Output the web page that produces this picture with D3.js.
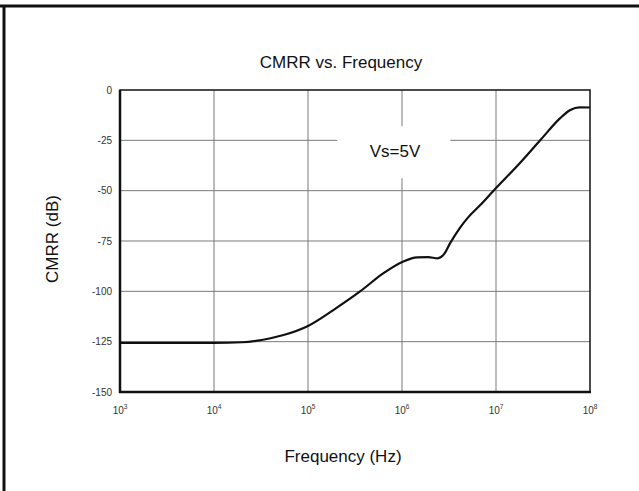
<!DOCTYPE html>
<html>
<head>
<meta charset="utf-8">
<script src="https://cdn.jsdelivr.net/npm/d3@7"></script>
<style>
  body { margin: 0; background: #fff; }
  svg { display: block; font-family: "Liberation Sans", Arial, sans-serif; }
</style>
</head>
<body>
<svg id="chart" width="639" height="491"></svg>
<script>
// values
const freqHz = [1000, 3000, 10000, 20000, 28000, 40000, 55000, 100000, 186000, 355000,
  630000, 1020000, 1445000, 1900000, 2400000, 2800000, 3240000, 4170000, 5000000, 6760000,
  10000000, 16600000, 30000000, 47900000, 61700000, 77600000, 100000000];
const cmrrDb = [-125.6, -125.6, -125.6, -125.3, -124.6, -123.3, -121.7, -117.2, -109.3, -100.2,
  -91.1, -85.3, -83.1, -83.0, -83.6, -81.5, -76.2, -68.2, -63.5, -57.3,
  -48.7, -38, -24.6, -14.1, -9.9, -8.6, -8.7];
const xTickExp = [3, 4, 5, 6, 7, 8];
const yTicks = [0, -25, -50, -75, -100, -125, -150];

const svg = d3.select("#chart");
const margin = { top: 90, right: 49, bottom: 99, left: 120 },
      width = 639 - margin.left - margin.right,
      height = 491 - margin.top - margin.bottom;

// outer frame (only top and left edges visible)
svg.append("line").attr("x1", 0).attr("x2", 639).attr("y1", 6).attr("y2", 6)
  .attr("stroke", "#111").attr("stroke-width", 3);
svg.append("line").attr("x1", 4).attr("x2", 4).attr("y1", 5).attr("y2", 491)
  .attr("stroke", "#111").attr("stroke-width", 3);

const x = d3.scaleLog().domain([1e3, 1e8]).range([0, width]);
const y = d3.scaleLinear().domain([-150, 0]).range([height, 0]);

const chart = svg.append("g")
  .attr("transform", "translate(" + margin.left + "," + margin.top + ")");

// grid
chart.append("g").selectAll("line").data(xTickExp.slice(1, -1)).enter().append("line")
  .attr("x1", d => x(Math.pow(10, d))).attr("x2", d => x(Math.pow(10, d)))
  .attr("y1", 0).attr("y2", height)
  .attr("stroke", "#7a7a7a").attr("stroke-width", 1);
chart.append("g").selectAll("line").data(yTicks.slice(1, -1)).enter().append("line")
  .attr("x1", 0).attr("x2", width)
  .attr("y1", d => y(d)).attr("y2", d => y(d))
  .attr("stroke", "#7a7a7a").attr("stroke-width", 1);

// label box covers grid
chart.append("rect")
  .attr("x", x(2e5) + 1).attr("y", y(-18)).attr("width", 113).attr("height", 52)
  .attr("fill", "#fff");
chart.append("text")
  .attr("x", x(1e6) - 7).attr("y", y(-33.5))
  .attr("text-anchor", "middle").attr("font-size", 17).attr("fill", "#111")
  .text("Vs=5V");

// plot frame
chart.append("rect").attr("x", 0).attr("y", 0).attr("width", width).attr("height", height)
  .attr("fill", "none").attr("stroke", "#111").attr("stroke-width", 1.5);
chart.append("line").attr("x1", 0).attr("x2", 0).attr("y1", 0).attr("y2", height + 1)
  .attr("stroke", "#111").attr("stroke-width", 2.5);
chart.append("line").attr("x1", -1).attr("x2", width + 1).attr("y1", height).attr("y2", height)
  .attr("stroke", "#111").attr("stroke-width", 2.5);

// curve
const pts = freqHz.map((f, i) => [f, cmrrDb[i]]);
const line = d3.line()
  .x(d => x(d[0]))
  .y(d => y(d[1]))
  .curve(d3.curveMonotoneX);
chart.append("path").datum(pts)
  .attr("d", line)
  .attr("fill", "none").attr("stroke", "#111").attr("stroke-width", 2.2);

// y tick labels
chart.append("g").selectAll("text").data(yTicks).enter().append("text")
  .attr("x", -8).attr("y", d => y(d)).attr("dy", "0.35em")
  .attr("text-anchor", "end").attr("font-size", 10).attr("fill", "#333")
  .text(d => d);

// x tick labels 10^n
const xl = chart.append("g").selectAll("text").data(xTickExp).enter().append("text")
  .attr("x", d => x(Math.pow(10, d))).attr("y", height + 22)
  .attr("text-anchor", "middle").attr("font-size", 10).attr("fill", "#333");
xl.append("tspan").text("10");
xl.append("tspan").attr("dy", -5).attr("font-size", 6.5).text(d => d);

// titles
svg.append("text").attr("x", 341).attr("y", 68)
  .attr("text-anchor", "middle").attr("font-size", 17).attr("fill", "#111")
  .text("CMRR vs. Frequency");
svg.append("text").attr("x", 343).attr("y", 462)
  .attr("text-anchor", "middle").attr("font-size", 17).attr("fill", "#111")
  .text("Frequency (Hz)");
svg.append("text")
  .attr("transform", "translate(58,239) rotate(-90)")
  .attr("text-anchor", "middle").attr("font-size", 17).attr("fill", "#111")
  .text("CMRR (dB)");
</script>
</body>
</html>
